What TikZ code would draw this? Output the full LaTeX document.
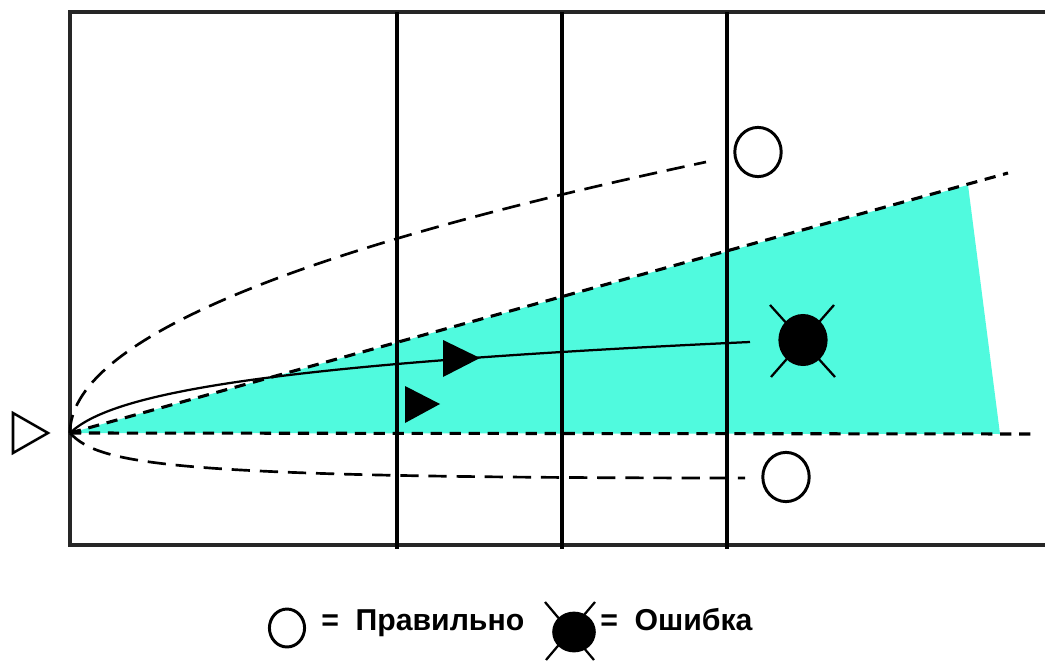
\documentclass[tikz,border=0pt]{standalone}
\usepackage{fontspec}
\setmainfont{Liberation Sans}
\usetikzlibrary{shapes.geometric,calc}
\definecolor{fancyan}{RGB}{80,250,222}
\tikzset{
  frame/.style={line width=2.4pt, black!85},
  lane/.style={line width=3pt},
  guide/.style={line width=2.2pt, dash pattern=on 8pt off 5.5pt},
  trail/.style={line width=1.9pt, dash pattern=on 13pt off 7pt},
  okmark/.style={ellipse, draw, line width=2.1pt, inner sep=0pt, minimum width=33pt, minimum height=35pt},
  errmark/.style={ellipse, fill=black, inner sep=0pt, minimum width=35pt, minimum height=37pt},
  cross/.style={line width=1.6pt},
  legtxt/.style={font=\fontsize{21.5}{25}\selectfont\bfseries, inner sep=0pt, anchor=base west},
}

\begin{document}
\begin{tikzpicture}[x=0.025cm,y=-0.025cm]
  \useasboundingbox (0,0) rectangle (1045,662);
  \coordinate (src) at (70,433);
  \coordinate (fanTop) at (968,185);
  \coordinate (fanBot) at (1000,434);
  \coordinate (hiEnd) at (706,162);
  \coordinate (loEnd) at (745,478);
  \coordinate (runEnd) at (750,342);

  % sector
  \fill[fancyan] (src) -- (fanTop) -- (fanBot) -- cycle;

  % field and lanes
  \draw[frame] (1045,12) -- (70,12) -- (70,545) -- (1045,545);
  \foreach \x in {397,562,727}
    \draw[lane] (\x,12) -- (\x,549);

  \draw[guide] (src) -- (1008,173);
  \draw[guide] (src) -- (1035,434);

  % flight paths
  \draw[trail] (src) .. controls (70,343) and (282,252) .. (hiEnd);
  \draw[trail] (src) .. controls (100,465) and (170,478) .. (loEnd);
  \draw[line width=1.6pt] (src) .. controls (110,395) and (250,365) .. (runEnd);

  \fill (443,340) -- (443,377) -- (480,358) -- cycle;
  \fill (405,386) -- (405,423) -- (440,404) -- cycle;
  \draw[line width=1.8pt] (13,413) -- (13,453) -- (48,433) -- cycle;

  % outcomes
  \node[okmark] (okHigh) at (758,152) {};
  \node[okmark] (okLow) at (786,477) {};
  \draw[cross] (803,340) ++(-33,-35) -- ++(65,72);
  \draw[cross] (803,340) ++(31,-35) -- ++(-63,72);
  \node[errmark] (miss) at (803,340) {};

  % legend
  \node[okmark, minimum width=25pt, minimum height=27pt] (legOk) at (287,628) {};
  \node[legtxt] (legOkTxt) at (321,630) {=\hspace{0.55em}Правильно};
  \draw[cross] (570,631) ++(-25,-29) -- ++(49,58);
  \draw[cross] (570,631) ++(25,-29) -- ++(-49,58);
  \node[errmark, minimum width=31pt, minimum height=29pt] (legMiss) at (574,632) {};
  \node[legtxt] (legMissTxt) at (600,630) {=\hspace{0.55em}Ошибка};
\end{tikzpicture}
\end{document}
